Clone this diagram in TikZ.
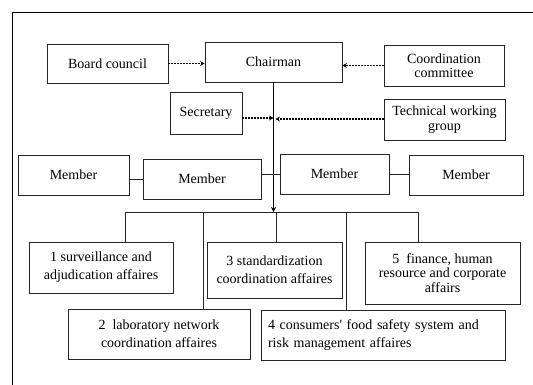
\documentclass[tikz,border=0pt]{standalone}
\usepackage{fontspec}
\setmainfont{Liberation Serif}
\usetikzlibrary{arrows.meta}
\begin{document}
\begin{tikzpicture}[x=1pt,y=-1pt,
  box/.style={draw=black!85, line width=0.8pt, inner sep=0pt, align=center,
    font=\fontsize{14}{14.5}\selectfont},
  wide/.style={font=\fontsize{14}{18}\selectfont},
  dots/.style={dash pattern=on 2pt off 1pt, line width=1.1pt, -{Stealth[length=4.5pt,width=5pt]}},
  link/.style={line width=0.8pt, draw=black!85},
  trunk/.style={line width=1.3pt, -{Stealth[length=5pt,width=5pt]}}]
  \useasboundingbox (0,0) rectangle (533,385);
  % page frame
  \draw[line width=0.9pt] (12,385) -- (12,12) -- (533,12);

  % top level
  \node[box, minimum width=121, minimum height=39] (board) at (107.5,63.5) {Board council};
  \node[box, minimum width=137, minimum height=40] (chair) at (273.5,62) {Chairman};
  \node[box, minimum width=120, minimum height=41] (coord) at (444,65.5) {Coordination\\committee};
  \node[box, minimum width=72, minimum height=42] (sec) at (206,113) {Secretary};
  \node[box, minimum width=121, minimum height=41] (tech) at (444.5,119.5) {Technical working\\group};

  % members
  \node[box, minimum width=111, minimum height=40] (m1) at (73.5,175) {Member};
  \node[box, minimum width=118, minimum height=40] (m2) at (202,179) {Member};
  \node[box, minimum width=109, minimum height=40] (m3) at (334.5,174) {Member};
  \node[box, minimum width=114, minimum height=40] (m4) at (466,175) {Member};

  % affairs
  \node[box, wide, minimum width=144, minimum height=51] (a1) at (101,267.5) {1 surveillance and\\adjudication affaires};
  \node[box, wide, minimum width=135, minimum height=56] (a3) at (274.5,270) {3 standardization\\coordination affaires};
  \node[box, minimum width=155, minimum height=62] (a5) at (442.5,273) {5\ \ finance, human\\resource and corporate\\affairs};
  \node[box, wide, minimum width=182, minimum height=50] (a2) at (159,334) {2\ \ laboratory network\\coordination affaires};
  \node[box, wide, minimum width=244, minimum height=50, text width=230, align=left] (a4) at (383,335) {4 consumers\textquotesingle{} food safety system and\\risk management affaires};

  % bus
  \coordinate (bus) at (273.5,212);
  \coordinate (d1) at (125,212);
  \coordinate (d2) at (203,212);
  \coordinate (d3) at (276,212);
  \coordinate (d4) at (346,212);
  \coordinate (d5) at (418,212);
  \coordinate (sj) at (273.5,118);
  \coordinate (tj) at (275.5,119);

  % dashed arrows into the chairman line
  \draw[dots] (board.east) -- (board.east -| chair.west);
  \draw[dots] (coord.west) -- (coord.west -| chair.east);
  \draw[dots] (sec.east |- sj) -- (sj);
  \draw[dots] (tech.west |- tj) -- (tj);

  % member links
  \draw[link] (m2.west) -- (m2.west -| m1.east);
  \draw[link] (m3.west) -- (m3.west -| m2.east);
  \draw[link] (m3.east) -- (m3.east -| m4.west);

  % trunk and bus
  \draw[trunk] (chair.south) -- (bus);
  \draw[link] (d1) -- (d5);
  \draw[link] (d1) -- (d1 |- a1.north);
  \draw[link] (d2) -- (d2 |- a2.north);
  \draw[link] (d3) -- (d3 |- a3.north);
  \draw[link] (d4) -- (d4 |- a4.north);
  \draw[link] (d5) -- (d5 |- a5.north);
\end{tikzpicture}
\end{document}
